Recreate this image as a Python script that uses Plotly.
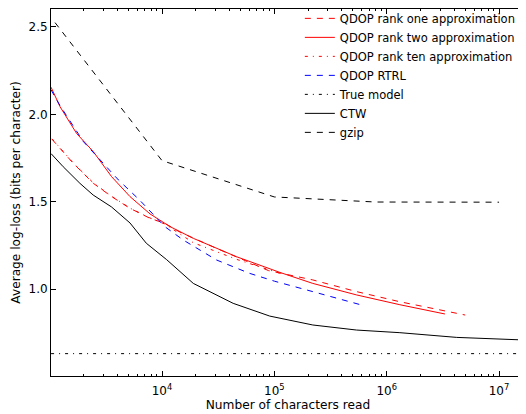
import plotly.graph_objects as go

# ---- data ----
rank_one_x = [1050, 1620, 2450, 3560, 5190, 7800, 10600, 14500, 30000, 50000, 89000, 220000, 540000, 1310000, 5000000]
rank_one_y = [1.857, 1.72, 1.605, 1.529, 1.462, 1.405, 1.376, 1.325, 1.235, 1.175, 1.105, 1.052, 0.985, 0.927, 0.851]

rank_two_x = [1030, 1236, 1740, 2450, 3560, 5190, 7820, 11800, 19000, 30600, 46000, 112000, 220000, 540000, 1310000, 3300000]
rank_two_y = [2.155, 2.044, 1.89, 1.786, 1.643, 1.529, 1.43, 1.357, 1.29, 1.233, 1.185, 1.095, 1.032, 0.966, 0.91, 0.857]

rank_ten_x = [1050, 1620, 2450, 3560, 5190, 7800, 10600, 19000, 46000, 112000]
rank_ten_y = [1.86, 1.722, 1.607, 1.531, 1.463, 1.407, 1.372, 1.265, 1.17, 1.09]

rtrl_x = [1030, 1236, 1990, 2880, 4100, 6300, 10600, 15500, 30600, 60000, 100000, 220000, 600000]
rtrl_y = [2.14, 2.05, 1.845, 1.73, 1.624, 1.51, 1.357, 1.28, 1.166, 1.09, 1.045, 0.985, 0.908]

true_x = [1030, 17000000]
true_y = [0.63, 0.63]

ctw_x = [1030, 1320, 1860, 2440, 3550, 5190, 7250, 11000, 19000, 43000, 91000, 220000, 540000, 1310000, 4200000, 17000000]
ctw_y = [1.775, 1.70, 1.605, 1.538, 1.47, 1.378, 1.262, 1.168, 1.032, 0.918, 0.845, 0.794, 0.765, 0.75, 0.723, 0.708]

gzip_x = [1117, 10000, 100000, 800000, 10000000]
gzip_y = [2.525, 1.735, 1.527, 1.498, 1.497]

x_tick_vals = [1e4, 1e5, 1e6, 1e7]
x_tick_text = ["10<sup>4</sup>", "10<sup>5</sup>", "10<sup>6</sup>", "10<sup>7</sup>"]
y_tick_vals = [1.0, 1.5, 2.0, 2.5]
y_tick_text = ["1.0", "1.5", "2.0", "2.5"]

series = [
    ("QDOP rank one approximation", rank_one_x, rank_one_y, "red", "6px,6px"),
    ("QDOP rank two approximation", rank_two_x, rank_two_y, "red", "solid"),
    ("QDOP rank ten approximation", rank_ten_x, rank_ten_y, "red", "3px,5px,1px,5px"),
    ("QDOP RTRL", rtrl_x, rtrl_y, "blue", "6px,6px"),
    ("True model", true_x, true_y, "black", "3px,5px,1px,5px"),
    ("CTW", ctw_x, ctw_y, "black", "solid"),
    ("gzip", gzip_x, gzip_y, "black", "6px,6px"),
]

fig = go.Figure()
for name, xs, ys, col, dash in series:
    fig.add_trace(go.Scatter(x=xs, y=ys, mode="lines", name=name,
                             line=dict(color=col, width=1, dash=dash)))

minor_vals = []
for e in range(3, 8):
    for m in range(2, 10):
        minor_vals.append(m * 10 ** e)

# the page body has an 8px margin, so the figure is sized to the remaining window
font = "DejaVu Sans, Liberation Sans, sans-serif"
fig.update_layout(
    width=518, height=406,
    margin=dict(l=43, r=1, t=1, b=38, autoexpand=False),
    paper_bgcolor="white", plot_bgcolor="white",
    font=dict(family=font, size=12, color="black"),
    showlegend=True,
    legend=dict(x=0.525, xanchor="left", y=1.014, yanchor="top",
                bgcolor="rgba(0,0,0,0)", borderwidth=0, tracegroupgap=0,
                font=dict(size=11.5)),
)
fig.update_xaxes(
    type="log", range=[3.012, 7.231], automargin=False,
    title=dict(text="Number of characters read", standoff=3, font=dict(size=12.2)),
    tickvals=x_tick_vals, ticktext=x_tick_text, ticklabelstandoff=4,
    ticks="inside", ticklen=5, tickcolor="black",
    minor=dict(tickvals=minor_vals, ticks="inside", ticklen=2, tickcolor="black", showgrid=False),
    showline=True, linecolor="black", linewidth=1, mirror="ticks",
    showgrid=False, zeroline=False,
)
fig.update_yaxes(
    range=[0.502, 2.603], automargin=False,
    title=dict(text="Average log-loss (bits per character)", standoff=5, font=dict(size=12.2)),
    tickvals=y_tick_vals, ticktext=y_tick_text,
    ticks="inside", ticklen=5, tickcolor="black",
    showline=True, linecolor="black", linewidth=1, mirror="ticks",
    showgrid=False, zeroline=False,
)

fig.write_html("out.html")
